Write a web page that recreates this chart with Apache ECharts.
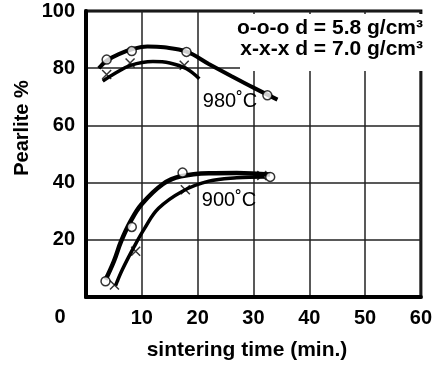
<!DOCTYPE html>
<html>
<head>
<meta charset="utf-8">
<script src="https://cdn.jsdelivr.net/npm/echarts@6/dist/echarts.min.js"></script>
<style>
  html, body { margin: 0; padding: 0; background: #fff; }
  #main { width: 435px; height: 367px; }
</style>
</head>
<body>
<div id="main"></div>
<script>
// curves: [sintering time (min), pearlite %]
var hot_o_curve = [[2.3,80],[3.7,82.6],[6,85],[8.5,86.8],[11,87.6],[14,87.3],[18,85.8],[22,81.5],[26,77.3],[30,73.2],[34.3,69]];
var hot_x_curve = [[3,75.5],[5,78],[8,81],[12,82.3],[15,81.8],[18,79.8],[20.3,76.3]];
var hot_o_pts = [[3.7,83],[8.2,86],[18,85.7],[32.5,70.5]];
var hot_x_pts = [[3.7,77.8],[7.9,81.8],[17.6,81]];

var cold_o_curve = [[3.5,6],[5,12.5],[6.3,19.5],[8,26.5],[10,32.5],[13.8,39.5],[17,42.2],[22,43.3],[27,43.4],[33,42.8]];
var cold_x_curve = [[5.3,4],[6.5,9.5],[8.6,17.5],[10.5,24],[13,31],[17.3,37],[22,40.5],[27,41.7],[32,42]];
var cold_o_pts = [[3.5,5.5],[8.2,24.5],[17.3,43.5],[33,42]];
var cold_x_pts = [[5.1,4.2],[8.9,16],[17.8,37.5],[31.5,42.5]];

var xTitle = 'sintering time (min.)';
var yTitle = 'Pearlite %';
var legendLines = ['o-o-o d = 5.8 g/cm³', 'x-x-x d = 7.0 g/cm³'];

var FONT = '"Liberation Sans", Arial, sans-serif';
var crossPath = 'path://M0,0L10,10M10,0L0,10';

var myChart = echarts.init(document.getElementById('main'));

function curve(data, w) {
  return {
    type: 'line', data: data, smooth: 0.4, showSymbol: false, silent: true,
    lineStyle: { color: '#000', width: w }, z: 3
  };
}
function circles(data) {
  return {
    type: 'scatter', data: data, symbol: 'circle', symbolSize: 9, z: 5,
    itemStyle: { color: '#fff', borderColor: '#000', borderWidth: 1.5 }
  };
}
function crosses(data) {
  return {
    type: 'scatter', data: data, symbol: crossPath, symbolSize: 9, z: 5,
    itemStyle: { color: 'none', borderColor: '#000', borderWidth: 1.5 }
  };
}

var option = {
  animation: false,
  backgroundColor: '#fff',
  grid: {
    left: 86, right: 6, top: 11, bottom: 70,
    show: true, borderColor: '#000', borderWidth: 3
  },
  xAxis: {
    type: 'value', min: 0, max: 60, interval: 10,
    axisLine: { show: true, lineStyle: { color: '#000', width: 4 } },
    axisTick: { show: false },
    axisLabel: { showMinLabel: false, margin: 11, color: '#000', fontFamily: FONT, fontWeight: 'bold', fontSize: 20 },
    splitLine: { show: true, lineStyle: { color: '#222', width: 1.5 } }
  },
  yAxis: {
    type: 'value', min: 0, max: 100, interval: 20,
    axisLine: { show: true, lineStyle: { color: '#000', width: 4 } },
    axisTick: { show: false },
    axisLabel: { showMinLabel: false, margin: 11, color: '#000', fontFamily: FONT, fontWeight: 'bold', fontSize: 20 },
    splitLine: { show: true, lineStyle: { color: '#222', width: 1.5 } }
  },
  graphic: [
    // white patch behind the density key
    { type: 'rect', shape: { x: 240, y: 14, width: 186, height: 57 }, style: { fill: '#fff' }, z: 2 },
    { type: 'text', x: 423, y: 28, z: 10,
      style: { text: legendLines[0], font: 'bold 21px ' + FONT, fill: '#000', align: 'right', verticalAlign: 'middle' } },
    { type: 'text', x: 423, y: 49, z: 10,
      style: { text: legendLines[1], font: 'bold 21px ' + FONT, fill: '#000', align: 'right', verticalAlign: 'middle' } },
    { type: 'text', x: 230, y: 101, z: 10,
      style: { text: '980˚C', font: '20px ' + FONT, fill: '#000', align: 'center', verticalAlign: 'middle' } },
    { type: 'text', x: 229, y: 200, z: 10,
      style: { text: '900˚C', font: '20px ' + FONT, fill: '#000', align: 'center', verticalAlign: 'middle' } },
    { type: 'text', x: 60, y: 317, z: 10,
      style: { text: '0', font: 'bold 20px ' + FONT, fill: '#000', align: 'center', verticalAlign: 'middle' } },
    { type: 'text', x: 247, y: 350, z: 10,
      style: { text: xTitle, font: 'bold 21px ' + FONT, fill: '#000', align: 'center', verticalAlign: 'middle' } },
    { type: 'text', x: 22, y: 128, rotation: Math.PI / 2, z: 10,
      style: { text: yTitle, font: 'bold 20px ' + FONT, fill: '#000', align: 'center', verticalAlign: 'middle' } }
  ],
  series: [
    curve(hot_o_curve, 4),
    curve(hot_x_curve, 3.5),
    curve(cold_o_curve, 4.5),
    curve(cold_x_curve, 3.5),
    circles(hot_o_pts),
    crosses(hot_x_pts),
    circles(cold_o_pts),
    crosses(cold_x_pts)
  ]
};

myChart.setOption(option);
</script>
</body>
</html>
